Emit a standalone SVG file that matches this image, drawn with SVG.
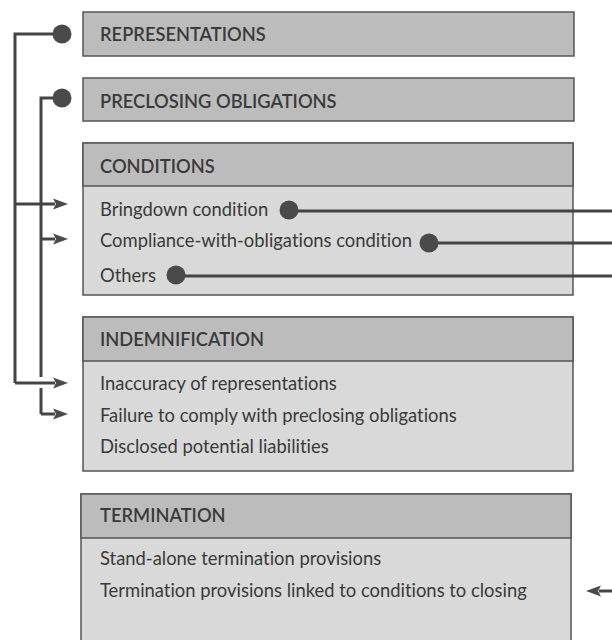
<svg xmlns="http://www.w3.org/2000/svg" width="612" height="640" viewBox="0 0 612 640">
<defs>
<style>
.box{stroke:#555;stroke-width:1.5}
.hdr{fill:#bcbcbc}
.body{fill:#d9d9d9}
.ht{font-family:Lato,"Open Sans","Liberation Sans",sans-serif;font-size:18.3px;font-weight:600;fill:#3a3a3a;font-variant-ligatures:none}
.it{font-family:Lato,"Open Sans","Liberation Sans",sans-serif;font-size:18.4px;fill:#3a3a3a;font-variant-ligatures:none}
.ln{fill:none;stroke:#444;stroke-width:3}
.dot{fill:#4a4a4a}
</style>
<marker id="ah" markerWidth="16" markerHeight="12" refX="2" refY="6" orient="auto" markerUnits="userSpaceOnUse">
<path d="M0,0.5 L15,6 L0,11.5 L3,6 Z" fill="#4a4a4a"/>
</marker>
</defs>
<rect width="612" height="640" fill="#fff"/>

<g id="representations">
<rect class="box hdr" x="83" y="12" width="491" height="44"/>
<text class="ht" x="100" y="41">REPRESENTATIONS</text>
</g>

<g id="preclosing">
<rect class="box hdr" x="83" y="78" width="491" height="43"/>
<text class="ht" x="100" y="108">PRECLOSING OBLIGATIONS</text>
</g>

<g id="conditions">
<rect class="box body" x="83" y="143" width="490" height="152"/>
<rect class="box hdr" x="83" y="143" width="490" height="43"/>
<text class="ht" x="100" y="173">CONDITIONS</text>
<text class="it" x="100" y="216">Bringdown condition</text>
<text class="it" x="100" y="247">Compliance-with-obligations condition</text>
<text class="it" x="100" y="282">Others</text>
</g>

<g id="indemnification">
<rect class="box body" x="83" y="317" width="490" height="154"/>
<rect class="box hdr" x="83" y="317" width="490" height="44"/>
<text class="ht" x="100" y="346">INDEMNIFICATION</text>
<text class="it" x="100" y="390">Inaccuracy of representations</text>
<text class="it" x="100" y="422">Failure to comply with preclosing obligations</text>
<text class="it" x="100" y="453">Disclosed potential liabilities</text>
</g>

<g id="termination">
<rect class="box body" x="81" y="494" width="490" height="150"/>
<rect class="box hdr" x="81" y="494" width="490" height="44"/>
<text class="ht" x="100" y="522">TERMINATION</text>
<text class="it" x="100" y="565">Stand-alone termination provisions</text>
<text class="it" x="100" y="597">Termination provisions linked to conditions to closing</text>
</g>

<g id="connectors">
<path class="ln" d="M62,34 H15 V383"/>
<path class="ln" d="M15,204 H55" marker-end="url(#ah)"/>
<path class="ln" d="M15,383 H55" marker-end="url(#ah)"/>
<path class="ln" d="M62,98 H41 V377 M41,388 V414"/>
<path class="ln" d="M41,239 H55" marker-end="url(#ah)"/>
<path class="ln" d="M41,414 H55" marker-end="url(#ah)"/>
<circle class="dot" cx="62" cy="34" r="9.5"/>
<circle class="dot" cx="62" cy="98" r="9.5"/>
<path class="ln" d="M289,211 H612"/>
<path class="ln" d="M429,243 H612"/>
<path class="ln" d="M176,276 H612"/>
<circle class="dot" cx="289" cy="210" r="9.5"/>
<circle class="dot" cx="429" cy="243" r="9.5"/>
<circle class="dot" cx="176" cy="275" r="9.5"/>
<path class="ln" d="M612,591 H599" marker-end="url(#ah)"/>
</g>
</svg>
